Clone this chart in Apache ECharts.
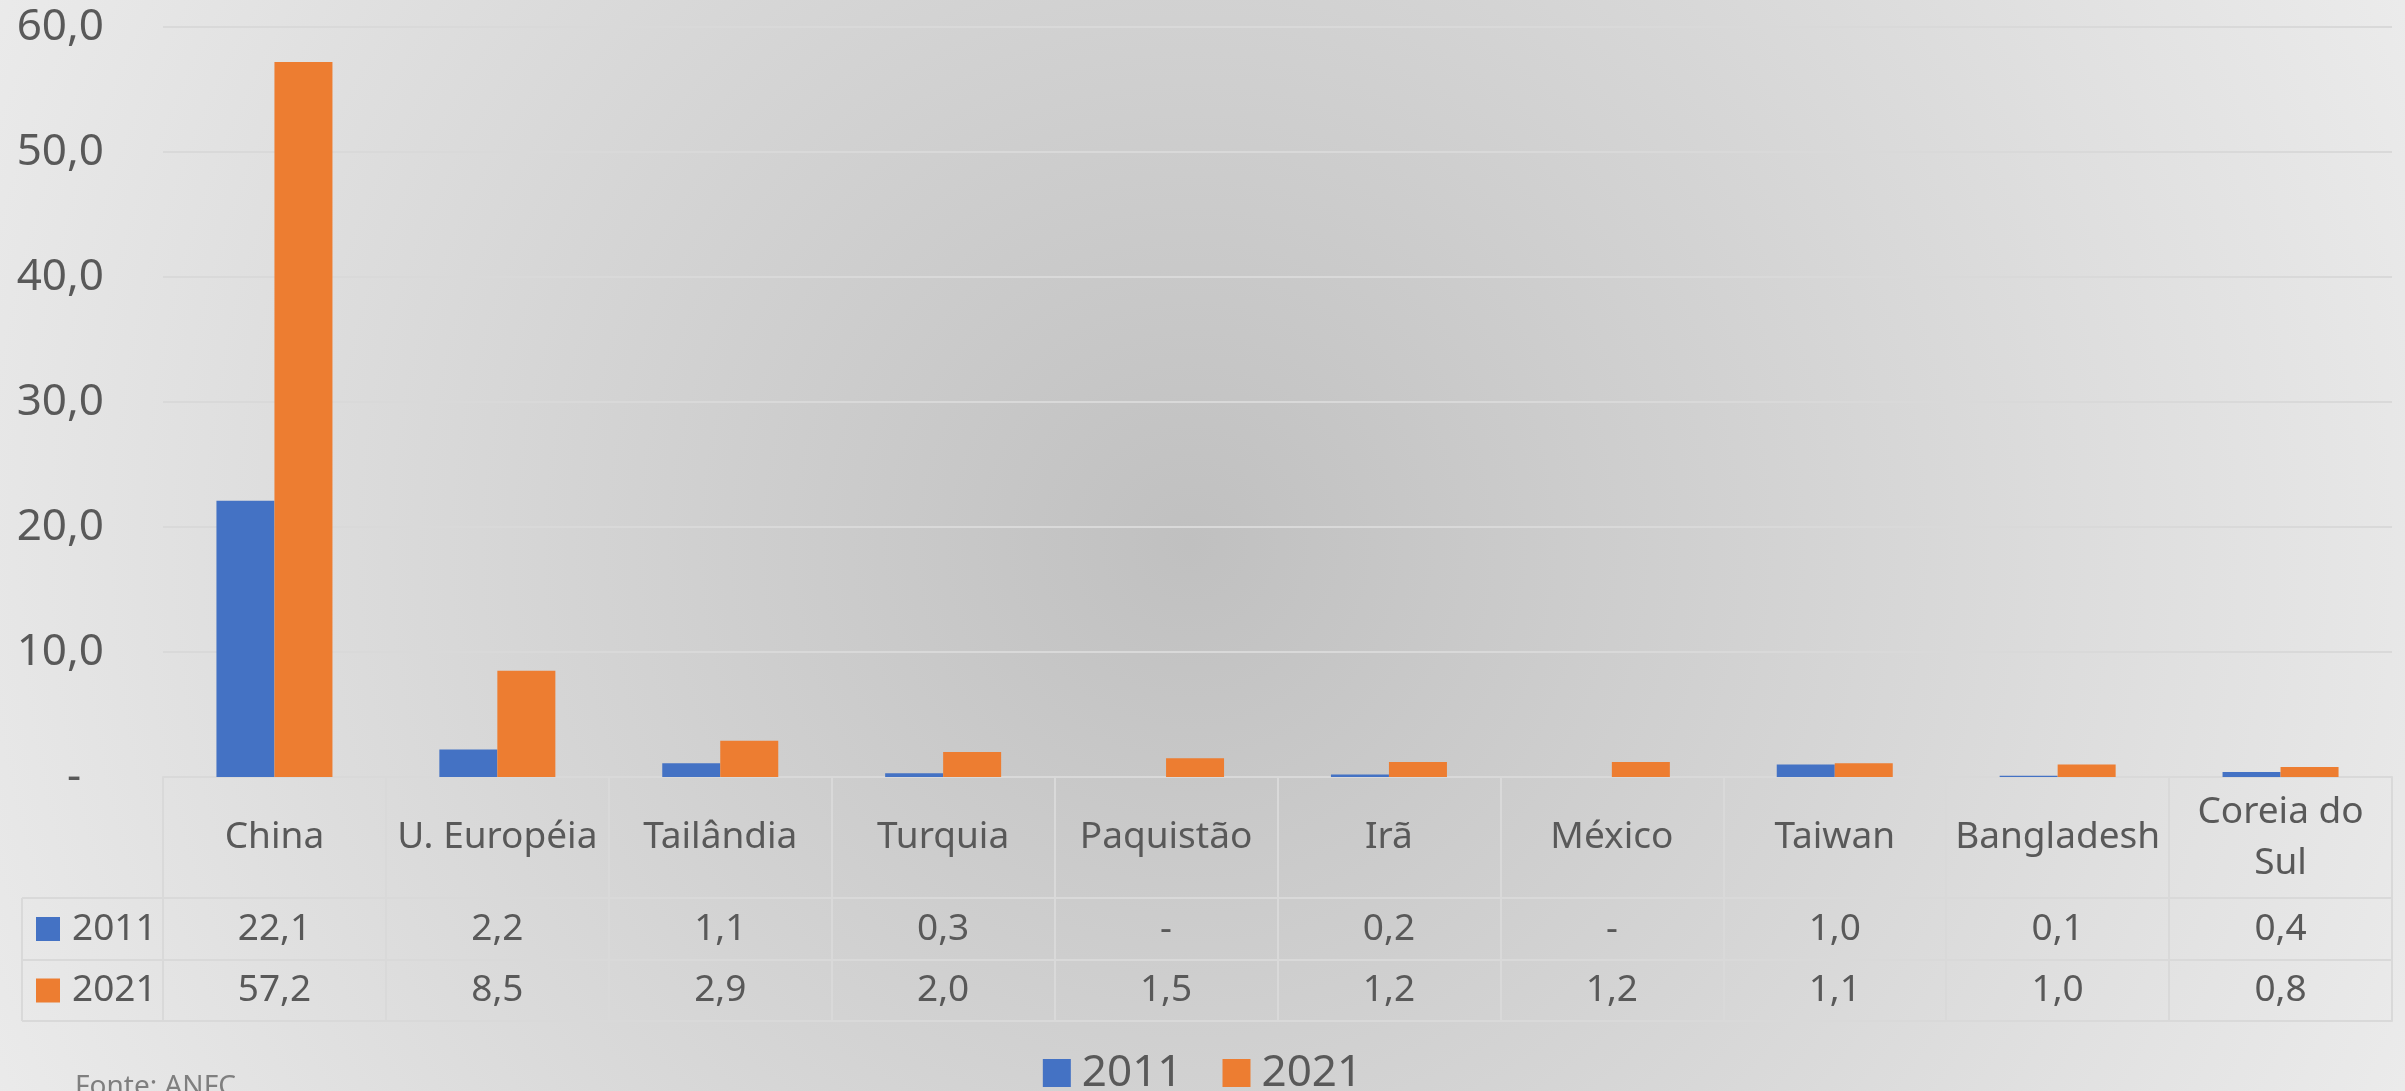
<!DOCTYPE html>
<html>
<head>
<meta charset="utf-8">
<script src="https://cdn.jsdelivr.net/npm/echarts@6/dist/echarts.min.js"></script>
<style>
  html, body { margin: 0; padding: 0; }
  body {
    width: 2405px; height: 1091px; overflow: hidden;
    background: radial-gradient(circle 1330px at 1190px 545px, #c0c0c0 0%, #ebebeb 100%);
  }
  #chart { width: 2405px; height: 1091px; }
</style>
</head>
<body>
<div id="chart"></div>
<script>
const categories = ['China', 'U. Européia', 'Tailândia', 'Turquia', 'Paquistão', 'Irã', 'México', 'Taiwan', 'Bangladesh', 'Coreia do Sul'];
const seriesNames = ['2011', '2021'];
const values2011 = [22.1, 2.2, 1.1, 0.3, 0, 0.2, 0, 1.0, 0.1, 0.4];
const values2021 = [57.2, 8.5, 2.9, 2.0, 1.5, 1.2, 1.2, 1.1, 1.0, 0.8];
const yTicks = { min: 0, max: 60, interval: 10 };
const sourceText = 'Fonte: ANFC';

const COLORS = ['#4472C4', '#ED7D31'];
const TEXT = '#595959';
const LINE = '#d9d9d9';
const FONT = 'Noto Sans';

const W = 2405, H = 1091;
const gridLeft = 163, gridRight = 13, gridTop = 27, plotBottom = 777;
const headerH = 121, row1H = 62, row2H = 61;

function fmt(v) {
  if (v === 0) return '-';
  return v.toFixed(1).replace('.', ',');
}

const chart = echarts.init(document.getElementById('chart'), null, { width: W, height: H, renderer: 'canvas' });

const baseX = {
  type: 'category',
  data: categories,
  gridIndex: 0,
  position: 'bottom',
  axisLine: { show: true, lineStyle: { color: LINE, width: 2 } },
  axisTick: { show: false },
  splitLine: { show: false }
};

const rowLabelStyle = {
  interval: 0,
  verticalAlign: 'middle',
  fontSize: 37,
  fontFamily: FONT,
  color: TEXT
};

const option = {
  backgroundColor: 'transparent',
  animation: false,
  textStyle: { fontFamily: FONT },
  grid: { left: gridLeft, right: gridRight, top: gridTop, bottom: H - plotBottom, containLabel: false },
  legend: {
    data: seriesNames,
    left: 'center',
    top: 1046,
    icon: 'rect',
    itemWidth: 28,
    itemHeight: 28,
    itemGap: 40,
    textStyle: { fontSize: 44, color: TEXT, fontFamily: FONT, padding: [0, 0, 0, 6] }
  },
  xAxis: [
    Object.assign({}, baseX, {
      axisTick: { show: true, interval: 0, length: headerH + row1H + row2H, lineStyle: { color: LINE, width: 2 } },
      axisLabel: Object.assign({}, rowLabelStyle, {
        margin: headerH / 2,
        lineHeight: 51,
        formatter: (v) => v.replace('Coreia do ', 'Coreia do\n')
      })
    }),
    Object.assign({}, baseX, {
      offset: headerH,
      axisLabel: Object.assign({}, rowLabelStyle, {
        margin: row1H / 2,
        formatter: (v, i) => fmt(values2011[i])
      })
    }),
    Object.assign({}, baseX, {
      offset: headerH + row1H,
      axisLabel: Object.assign({}, rowLabelStyle, {
        margin: row2H / 2,
        formatter: (v, i) => fmt(values2021[i])
      })
    }),
    Object.assign({}, baseX, {
      offset: headerH + row1H + row2H,
      axisLabel: { show: false }
    })
  ],
  yAxis: {
    type: 'value',
    min: yTicks.min,
    max: yTicks.max,
    interval: yTicks.interval,
    axisLine: { show: false },
    axisTick: { show: false },
    splitLine: { show: true, lineStyle: { color: LINE, width: 2 } },
    axisLabel: {
      margin: 59,
      fontSize: 44,
      fontFamily: FONT,
      color: TEXT,
      formatter: (v) => v === 0 ? '-  ' : fmt(v)
    }
  },
  series: [
    { name: seriesNames[0], type: 'bar', data: values2011, barWidth: 58, barGap: '0%', itemStyle: { color: COLORS[0] }, xAxisIndex: 0 },
    { name: seriesNames[1], type: 'bar', data: values2021, barWidth: 58, barGap: '0%', itemStyle: { color: COLORS[1] }, xAxisIndex: 0 }
  ]
};

chart.setOption(option);

// table legend column (left of the data table) and source note
const tableLeft = 22;
const r1Top = plotBottom + headerH, r2Top = r1Top + row1H, tBottom = r2Top + row2H;
const lineStyle = { stroke: LINE, lineWidth: 2 };
const graphics = [
  { type: 'line', shape: { x1: tableLeft, y1: r1Top, x2: gridLeft, y2: r1Top }, style: lineStyle },
  { type: 'line', shape: { x1: tableLeft, y1: r2Top, x2: gridLeft, y2: r2Top }, style: lineStyle },
  { type: 'line', shape: { x1: tableLeft, y1: tBottom, x2: gridLeft, y2: tBottom }, style: lineStyle },
  { type: 'line', shape: { x1: tableLeft, y1: r1Top, x2: tableLeft, y2: tBottom }, style: lineStyle }
];
[r1Top + row1H / 2, r2Top + row2H / 2].forEach((cy, i) => {
  graphics.push({ type: 'rect', shape: { x: 36, y: cy - 12, width: 24, height: 24 }, style: { fill: COLORS[i] } });
  graphics.push({ type: 'text', x: 72, y: cy, style: { text: seriesNames[i], fill: TEXT, fontSize: 37, fontFamily: FONT, verticalAlign: 'middle', align: 'left' } });
});
graphics.push({ type: 'text', x: 75, y: 1073, style: { text: sourceText, fill: '#7f7f7f', fontSize: 28, fontFamily: FONT, verticalAlign: 'top', align: 'left' } });
chart.setOption({ graphic: graphics });
</script>
</body>
</html>
